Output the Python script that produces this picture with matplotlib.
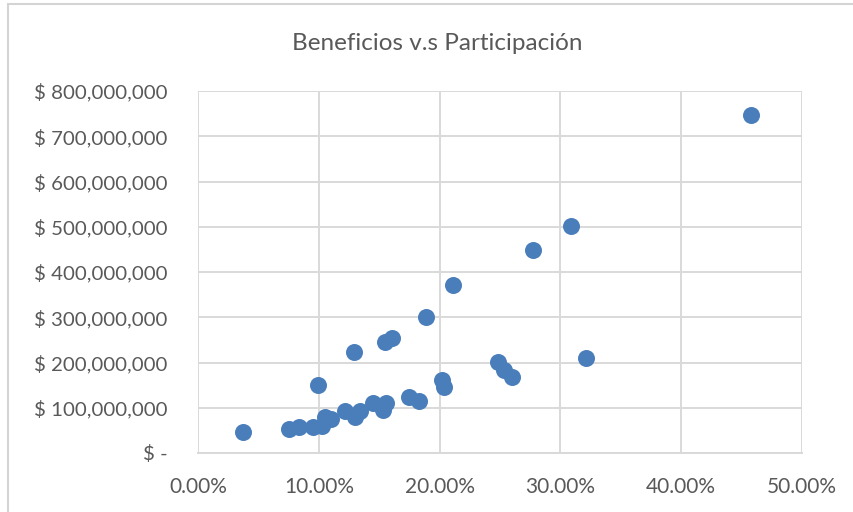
import matplotlib
matplotlib.use("Agg")
import matplotlib.pyplot as plt
from matplotlib.ticker import FuncFormatter
from matplotlib.patches import Rectangle

plt.rcParams['font.family'] = ['Lato', 'DejaVu Sans']

# participacion (%) vs beneficios ($)
participacion = [3.7, 7.5, 8.4, 9.5, 10.3, 10.5, 11.0, 9.9, 12.2, 13.0,
                 13.4, 12.9, 14.5, 15.3, 15.6, 15.5, 16.1, 17.5, 18.3, 18.9,
                 20.2, 20.4, 21.1, 24.8, 25.3, 26.0, 27.7, 30.9, 32.1, 45.8]
beneficios = [46e6, 53e6, 57e6, 57e6, 60e6, 80e6, 75e6, 150e6, 93e6, 80e6,
              93e6, 223e6, 110e6, 95e6, 110e6, 245e6, 254e6, 124e6, 115e6, 300e6,
              161e6, 146e6, 371e6, 201e6, 183e6, 168e6, 449e6, 502e6, 210e6, 747e6]

x_ticks = [0, 10, 20, 30, 40, 50]
y_ticks = [0, 100e6, 200e6, 300e6, 400e6, 500e6, 600e6, 700e6, 800e6]

txt = '#595959'
grid = '#d9d9d9'

fig = plt.figure(figsize=(8.54, 5.12), dpi=100)
ax = fig.add_axes([198/854, 1 - 453/512, 604/854, 362/512])

# outer chart border
fig.patches.append(Rectangle((8/854, -0.1), 1.1, 1 - 3.5/512 + 0.1,
                             transform=fig.transFigure, fill=False,
                             edgecolor='#d4d4d4', linewidth=1.5))

ax.scatter(participacion, beneficios, s=150, color='#4a7ebb', zorder=3,
           linewidths=0)

ax.set_xlim(0, 50)
ax.set_ylim(0, 800e6)
ax.set_xticks(x_ticks)
ax.set_yticks(y_ticks)

def fmt_money(v, pos):
    if v == 0:
        return '$ -'
    return '$ {:,.0f}'.format(v)

ax.xaxis.set_major_formatter(FuncFormatter(lambda v, p: '{:.2f}%'.format(v)))
ax.yaxis.set_major_formatter(FuncFormatter(fmt_money))

ax.grid(True, color=grid, linewidth=1.4, zorder=0)
ax.set_axisbelow(True)
for s in ['top', 'right', 'left']:
    ax.spines[s].set_visible(False)
ax.spines['bottom'].set_color(grid)
ax.spines['bottom'].set_linewidth(1.4)

ax.tick_params(length=0, labelcolor=txt)
ax.tick_params(axis='x', pad=17, labelsize=15)
ax.tick_params(axis='y', pad=22, labelsize=14.7)

fig.text(437/854, 1 - 44/512, 'Beneficios v.s Participación', ha='center',
         va='center', fontsize=17.5, color=txt)

fig.savefig('out.png', dpi=100)
